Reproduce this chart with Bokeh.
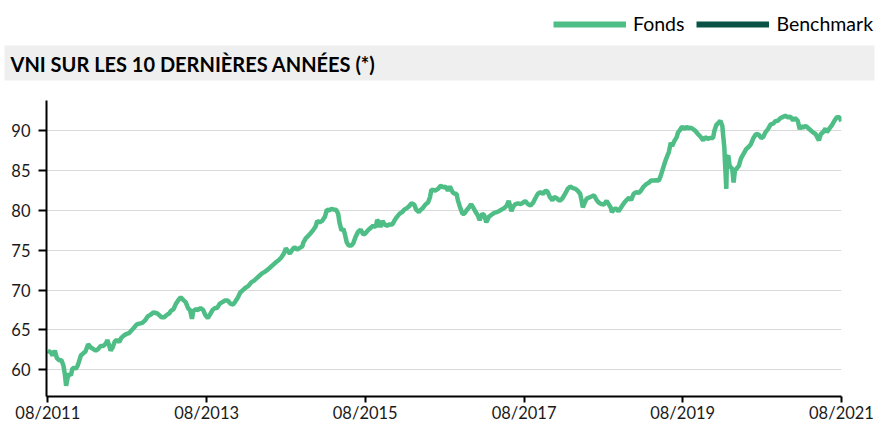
import numpy as np
import pandas as pd
from bokeh.plotting import figure
from bokeh.layouts import column
from bokeh.models import (Range1d, FixedTicker, DatetimeTickFormatter, Legend, LegendItem)
from bokeh.core.properties import value
from bokeh.embed import file_html
from bokeh.resources import INLINE

# ---------------- data ----------------
title_text = "VNI SUR LES 10 DERNIÈRES ANNÉES (*)"
series_names = ["Fonds", "Benchmark"]
start_date = "2011-08-01"

# months elapsed since 08/2011
fonds_months = [
    0.0, 0.45, 0.7, 1.06, 1.36, 1.7, 2.07, 2.37, 2.57, 2.77, 2.97, 3.2, 3.5, 3.7, 4.0, 4.2, 4.5, 4.7,
    5.0, 5.4, 5.7, 6.1, 6.5, 6.9, 7.25, 7.6, 8.0, 8.4, 8.8, 9.0, 9.3, 9.5, 9.8, 10.1, 10.4, 10.8,
    11.1, 11.5, 11.9, 12.3, 12.6, 13.0, 13.45, 13.85, 14.3, 14.7, 15.1, 15.5, 16.0, 16.5, 16.8,
    17.2, 17.6, 18.0, 18.4,
    18.6, 19.0, 19.35, 19.7, 20.1, 20.5, 20.85, 21.2, 21.5, 21.8, 22.0, 22.4, 22.7, 23.1, 23.5,
    23.8, 24.2, 24.5, 24.9, 25.3, 25.6, 26.0, 26.4, 26.8, 27.2, 27.6, 28.0, 28.3, 28.7, 29.1,
    29.5, 29.9, 30.3, 30.8, 31.2, 31.6, 32.0, 32.4, 32.8, 33.3, 33.7, 34.1, 34.5, 34.9, 35.3,
    35.7, 36.0, 36.3, 36.6, 37.0, 37.3, 37.7, 38.1, 38.5,
    38.6, 39.0, 39.3, 39.7, 40.1, 40.5, 40.75, 41.1, 41.5, 41.9, 42.2, 42.5, 42.9, 43.3, 43.6,
    43.9, 44.1, 44.4, 44.7, 44.9, 45.2, 45.5, 45.9, 46.2, 46.5, 46.9, 47.3, 47.7, 48.0, 48.4,
    48.8, 49.2, 49.6, 49.8, 50.1, 50.3, 50.6, 50.9, 51.3, 51.7, 52.1, 52.4, 52.8, 53.2, 53.6,
    53.9, 54.3, 54.6, 55.0, 55.4, 55.7, 56.1, 56.4, 56.7, 57.1, 57.5, 57.8, 58.0,
    58.6, 59.0, 59.4, 59.8, 60.1, 60.5, 60.8, 61.2, 61.5, 61.8, 62.0, 62.3, 62.7, 63.0, 63.3,
    63.7, 64.0, 64.3, 64.7, 65.0, 65.3, 65.7, 66.0, 66.3, 66.7, 67.0, 67.5, 67.9, 68.2, 68.6,
    69.0, 69.4, 69.7, 70.1, 70.4, 70.7, 71.1, 71.5, 71.9, 72.2, 72.6, 73.0, 73.4, 73.7, 74.1,
    74.5, 74.9, 75.3, 75.6, 75.9, 76.3, 76.6, 77.0, 77.4, 77.8,
    78.3, 78.6, 79.0, 79.4, 79.8, 80.1, 80.5, 80.7, 80.9, 81.2, 81.5, 81.8, 82.2, 82.6, 83.0,
    83.3, 83.7, 84.1, 84.5, 84.8, 85.1, 85.3, 85.7, 86.0, 86.3, 86.7, 87.1, 87.5, 87.9, 88.2,
    88.6, 89.0, 89.4, 89.7, 90.1, 90.5, 90.9, 91.2, 91.6, 92.0, 92.4, 92.7, 93.0, 93.4, 93.7,
    93.9, 94.2, 94.4, 94.8, 95.1, 95.3, 95.6, 95.9, 96.3, 96.6, 96.9,
    97.2, 97.6, 97.9, 98.3, 98.7, 99.1, 99.4, 99.8, 100.2, 100.6, 100.8, 101.1, 101.4, 101.7,
    102.0, 102.1, 102.3, 102.4, 102.6, 102.7, 102.9, 103.1, 103.3, 103.5, 103.7, 103.9, 104.1,
    104.5, 104.8, 105.2, 105.6, 106.0, 106.3, 106.7, 107.1, 107.5, 107.9, 108.2, 108.5, 108.9,
    109.3, 109.7, 110.0, 110.4, 110.8, 111.2, 111.5, 111.9, 112.3, 112.7, 113.0, 113.4, 113.7,
    113.9, 114.2, 114.6, 114.9, 115.3, 115.7, 116.1, 116.4, 116.6, 116.9, 117.2, 117.6, 117.8,
    118.2, 118.6, 118.9, 119.3, 119.7, 120.0,
]
fonds_values = [
    62.4, 62.2, 61.8, 62.4, 61.5, 61.2, 61.2, 60.5, 59.5, 58.0, 58.9, 59.5, 59.3, 60.1, 60.3, 60.1, 60.5, 61.0,
    61.8, 62.1, 62.3, 63.2, 62.8, 62.6, 62.4, 62.6, 63.0, 63.0, 63.3, 63.75, 63.0, 62.4, 62.8, 63.5, 63.75, 63.5,
    64.0, 64.3, 64.5, 64.6, 64.9, 65.25, 65.7, 65.8, 65.9, 66.2, 66.7, 66.9, 67.2, 67.1, 66.9,
    66.6, 66.6, 66.9, 67.1,
    67.4, 67.6, 68.25, 68.7, 69.1, 68.75, 68.5, 67.75, 67.5, 66.4, 67.4, 67.6, 67.5, 67.75, 67.5,
    66.9, 66.5, 66.9, 67.5, 67.75, 67.75, 68.3, 68.5, 68.7, 68.7, 68.3, 68.2, 68.5, 69.0, 69.7,
    70.0, 70.3, 70.5, 71.0, 71.2, 71.5, 71.8, 72.1, 72.3, 72.6, 72.9, 73.2, 73.5, 73.75, 74.1,
    74.6, 75.25, 74.9, 74.6, 75.1, 75.4, 75.1, 75.3, 75.5,
    75.9, 76.5, 76.75, 77.1, 77.5, 78.0, 78.7, 78.5, 78.7, 79.2, 80.1, 80.0, 80.2, 80.1, 80.1,
    79.6, 78.5, 77.5, 77.7, 77.1, 76.0, 75.6, 75.6, 75.9, 76.6, 77.3, 77.6, 77.0, 77.1, 77.5,
    77.8, 78.1, 77.9, 78.8, 78.5, 77.9, 78.7, 78.25, 78.1, 78.25, 78.25, 78.7, 79.2, 79.6, 79.8,
    80.1, 80.3, 80.5, 80.9, 80.75, 80.1, 79.8, 80.1, 80.3, 80.75, 81.0, 81.7, 82.6,
    82.5, 82.7, 83.1, 82.9, 83.0, 82.5, 83.0, 82.3, 82.1, 82.1, 81.3, 80.5, 79.6, 79.6, 80.0,
    80.4, 80.8, 80.4, 79.8, 79.4, 78.8, 79.6, 79.4, 78.5, 79.2, 79.4, 79.7, 79.8, 79.9, 80.1,
    80.3, 80.6, 81.2, 79.9, 80.5, 80.8, 80.9, 80.8, 81.0, 81.2, 80.8, 80.6, 81.0, 81.5, 82.1,
    82.3, 82.1, 82.5, 82.3, 81.7, 81.25, 81.7, 81.5, 81.2, 81.5,
    82.2, 82.7, 83.0, 82.8, 82.7, 82.5, 82.1, 81.3, 80.4, 81.0, 81.5, 81.6, 81.75, 81.9, 81.3,
    81.0, 80.8, 80.75, 81.2, 80.8, 80.4, 79.8, 80.2, 80.2, 79.9, 80.4, 80.9, 81.3, 81.6, 81.3,
    82.1, 82.3, 82.2, 82.5, 83.0, 83.3, 83.5, 83.75, 83.75, 83.8, 83.75, 84.4, 85.2, 86.25, 86.9,
    87.3, 88.5, 88.1, 88.8, 89.2, 89.8, 90.1, 90.5, 90.2, 90.5, 90.3,
    90.4, 90.2, 90.0, 89.6, 89.25, 88.8, 89.2, 89.0, 89.1, 89.1, 90.0, 90.75, 91.0, 91.25,
    90.6, 89.6, 87.9, 86.0, 82.7, 86.7, 86.9, 85.6, 85.4, 85.2, 83.5, 85.0, 85.2,
    85.6, 86.5, 87.1, 87.7, 88.0, 88.3, 89.1, 89.6, 89.5, 89.1, 89.25, 89.8, 90.2,
    90.8, 90.9, 91.2, 91.25, 91.6, 91.75, 91.9, 91.7, 91.75, 91.3, 91.6, 91.25, 90.2,
    90.6, 90.4, 90.6, 90.4, 90.1, 89.8, 89.6, 89.1, 88.8, 89.6, 89.8, 90.3, 89.8,
    90.3, 90.75, 91.2, 91.7, 91.7, 91.2,
]

x_tick_years = [2011, 2013, 2015, 2017, 2019, 2021]
y_ticks = [60, 65, 70, 75, 80, 85, 90]
y_min, y_max = 56.65, 93.8

# ---------------- styles ----------------
FONDS_COLOR = "#4fbe86"
BENCH_COLOR = "#0b5246"
FONT = "Lato"
W = 876

dates = pd.Timestamp(start_date) + pd.to_timedelta(np.array(fonds_months) * 30.4375, unit="D")
tick_ms = [pd.Timestamp(f"{y}-08-01").value / 1e6 for y in x_tick_years]

# ---------------- header (legend + title bar) ----------------
header = figure(width=W, height=88, x_range=Range1d(0, W), y_range=Range1d(88, 0),
                x_axis_type=None, y_axis_type=None, toolbar_location=None,
                output_backend="svg", min_border=0, outline_line_color=None,
                frame_align=False)
header.xgrid.visible = False
header.ygrid.visible = False
header.quad(left=[4], right=[874], top=[45], bottom=[80], fill_color="#efefef", line_color=None)
header.text(x=[10], y=[63], text=[title_text], text_font=value(FONT), text_font_style="bold",
            text_font_size="20px", text_baseline="middle", text_color="#000000")

# legend-only renderers (kept outside the visible header range)
r_f = header.line(x=[-20, -10], y=[-20, -20], line_color=FONDS_COLOR, line_width=6)
r_b = header.line(x=[-20, -10], y=[-20, -20], line_color=BENCH_COLOR, line_width=6)
legend = Legend(items=[LegendItem(label=series_names[0], renderers=[r_f]),
                       LegendItem(label=series_names[1], renderers=[r_b])],
                orientation="horizontal", location=(553, 53), margin=0, padding=0,
                glyph_width=73, glyph_height=20, label_standoff=7, spacing=12,
                border_line_color=None, background_fill_alpha=0,
                label_text_font=FONT, label_text_font_size="19.5px", label_text_color="#000000")
header.add_layout(legend)

# ---------------- main chart ----------------
p = figure(width=W, height=338, x_axis_type="datetime",
           x_range=Range1d(pd.Timestamp("2011-07-26"), pd.Timestamp("2021-08-01")),
           y_range=Range1d(y_min, y_max), toolbar_location=None, output_backend="svg",
           min_border_left=46, min_border_right=35, min_border_top=12, min_border_bottom=30,
           outline_line_color=None, frame_align=False)

p.line(dates, fonds_values, line_color=FONDS_COLOR, line_width=4.5)

p.xaxis.ticker = FixedTicker(ticks=tick_ms)
p.xaxis.formatter = DatetimeTickFormatter(years="%m/%Y", months="%m/%Y", days="%m/%Y")
p.yaxis.ticker = FixedTicker(ticks=y_ticks)
for ax in (p.xaxis[0], p.yaxis[0]):
    ax.axis_line_color = "#000000"
    ax.axis_line_width = 2
    ax.major_tick_line_color = "#000000"
    ax.major_tick_line_width = 2
    ax.major_tick_in = 0
    ax.minor_tick_line_color = None
    ax.major_label_text_font = FONT
    ax.major_label_text_font_size = "16.5px"
    ax.major_label_text_color = "#1a1a1a"
p.xaxis.major_tick_out = 6
p.xaxis.major_label_standoff = 0
p.yaxis.major_tick_out = 8
p.yaxis.major_label_standoff = 8
p.xgrid.visible = False
p.ygrid.grid_line_color = "#d9d9d9"
p.ygrid.grid_line_width = 1

layout = column(header, p, spacing=0)
open("out.html", "w").write(file_html(layout, INLINE))
